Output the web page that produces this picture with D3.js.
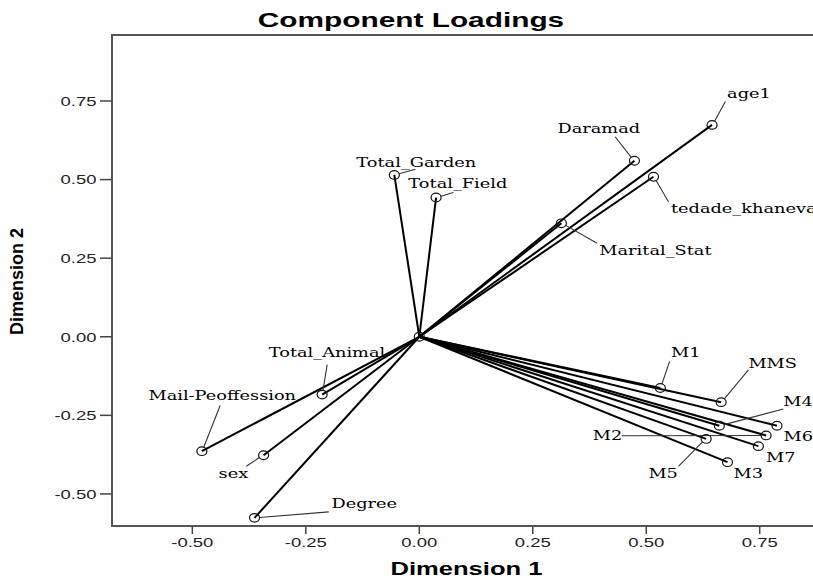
<!DOCTYPE html>
<html>
<head>
<meta charset="utf-8">
<script src="https://cdn.jsdelivr.net/npm/d3@7"></script>
<style>
  body { margin: 0; background: #fff; }
  svg { display: block; }
</style>
</head>
<body>
<script>
// loadings
const names = ["age1", "Daramad", "tedade_khanevar", "Marital_Stat", "Total_Garden", "Total_Field",
               "Total_Animal", "Mail-Peoffession", "sex", "Degree",
               "M1", "MMS", "M4", "M6", "M2", "M5", "M7", "M3"];
const dim1 = [0.645, 0.474, 0.516, 0.313, -0.055, 0.037,
              -0.214, -0.479, -0.343, -0.363,
              0.531, 0.665, 0.661, 0.788, 0.764, 0.632, 0.747, 0.679];
const dim2 = [0.674, 0.560, 0.509, 0.361, 0.515, 0.443,
              -0.184, -0.364, -0.377, -0.576,
              -0.163, -0.208, -0.283, -0.283, -0.314, -0.325, -0.348, -0.399];
const xTicks = [-0.50, -0.25, 0.00, 0.25, 0.50, 0.75];
const yTicks = [-0.50, -0.25, 0.00, 0.25, 0.50, 0.75];

// label placement (pixel offsets from the point: text start, leader start)
const labelPos = {
  "age1":            {t: [15, -26.7],   l: [13.3, -23.3]},
  "Daramad":         {t: [-77, -27.4],  l: [-19.3, -24]},
  "tedade_khanevar": {t: [17.4, 36.6],  l: [15, 25]},
  "Marital_Stat":    {t: [38, 31.7],    l: [35.7, 20]},
  "Total_Garden":    {t: [-38, -8.3],   l: [21, -5.7]},
  "Total_Field":     {t: [-27.7, -10],  l: [17.3, -5]},
  "Total_Animal":    {t: [-53.4, -37.7], l: [5, -30]},
  "Mail-Peoffession":{t: [-53.4, -51],  l: [18.3, -45.7]},
  "sex":             {t: [-45, 22.6],   l: [-17.3, 11]},
  "Degree":          {t: [77, -10],     l: [74.3, -6]},
  "M1":              {t: [10.7, -31],   l: [9.3, -26.6]},
  "MMS":             {t: [27.3, -34.6], l: [27.3, -32.3]},
  "M4":              {t: [64, -20],     l: [64, -16.7]},
  "M6":              {t: [6.6, 15.7],   l: null},
  "M2":              {t: [-173.3, 4.3], l: [-144.3, 0.3]},
  "M5":              {t: [-57.7, 39],   l: [-27.7, 27.4]},
  "M7":              {t: [7.7, 16],     l: null},
  "M3":              {t: [6, 15.6],     l: null}
};

const width = 813, height = 583;
const stretchK = 1.42; // the picture is wider than tall in its glyphs
const sans = "'Liberation Sans', Arial, sans-serif";
const serif = "'DejaVu Serif', serif";
const fmt = d3.formatLocale({decimal: ".", thousands: ",", grouping: [3], currency: ["", ""], minus: "-"}).format(".2f");

const x = d3.scaleLinear().domain([-0.677, 0.885]).range([112, 821]);
const y = d3.scaleLinear().domain([-0.602, 0.96]).range([526, 35]);

const svg = d3.select("body").append("svg")
  .attr("width", width).attr("height", height);

// stretch text horizontally, anchor: 0 start, 0.5 middle, 1 end
function stretch(sel, anchor) {
  sel.each(function() {
    const w = this.getComputedTextLength();
    const x0 = +this.getAttribute("x");
    this.setAttribute("textLength", w * stretchK);
    this.setAttribute("lengthAdjust", "spacingAndGlyphs");
    this.setAttribute("x", x0 - anchor * w * stretchK);
  });
}

// frame
svg.append("path")
  .attr("d", `M${x.range()[1]},${y.range()[1]}H${x.range()[0]}V${y.range()[0]}H${x.range()[1]}`)
  .attr("fill", "none").attr("stroke", "#555").attr("stroke-width", 2);

// y ticks
const yg = svg.append("g");
yg.selectAll("line").data(yTicks).join("line")
  .attr("x1", 100).attr("x2", 112)
  .attr("y1", d => y(d)).attr("y2", d => y(d))
  .attr("stroke", "#444").attr("stroke-width", 1.5);
yg.selectAll("text").data(yTicks).join("text")
  .attr("x", 96.5).attr("y", d => y(d) + 4.8)
  .style("font", `13px ${sans}`).attr("fill", "#222")
  .text(d => fmt(d))
  .call(stretch, 1);

// x ticks
const xg = svg.append("g");
xg.selectAll("line").data(xTicks).join("line")
  .attr("x1", d => x(d)).attr("x2", d => x(d))
  .attr("y1", 526).attr("y2", 534)
  .attr("stroke", "#444").attr("stroke-width", 1.5);
xg.selectAll("text").data(xTicks).join("text")
  .attr("x", d => x(d)).attr("y", 547)
  .style("font", `13px ${sans}`).attr("fill", "#222")
  .text(d => fmt(d))
  .call(stretch, 0.5);

// titles
svg.append("text").attr("x", 411).attr("y", 26.5)
  .style("font", `bold 21px ${sans}`).text("Component Loadings")
  .call(stretch, 0.5);
svg.append("text").attr("x", 466.5).attr("y", 575)
  .style("font", `bold 18px ${sans}`).text("Dimension 1")
  .call(stretch, 0.5);
svg.append("text")
  .attr("transform", "translate(23,281.5) rotate(-90)")
  .attr("text-anchor", "middle")
  .style("font", `bold 18px ${sans}`).text("Dimension 2");

const pts = names.map((n, i) => ({name: n, v1: dim1[i], v2: dim2[i]}));

// vectors from origin
svg.append("g").selectAll("line").data(pts).join("line")
  .attr("x1", x(0)).attr("y1", y(0))
  .attr("x2", d => x(d.v1)).attr("y2", d => y(d.v2))
  .attr("stroke", "#000").attr("stroke-width", 2);

// leader lines
const rx = 5, ry = 4.3;
svg.append("g").selectAll("line").data(pts.filter(d => labelPos[d.name].l)).join("line")
  .each(function(d) {
    const px = x(d.v1), py = y(d.v2);
    const [lx, ly] = labelPos[d.name].l;
    const a = Math.atan2(ly, lx);
    d3.select(this)
      .attr("x1", px + lx).attr("y1", py + ly)
      .attr("x2", px + rx * Math.cos(a)).attr("y2", py + ry * Math.sin(a));
  })
  .attr("stroke", "#333").attr("stroke-width", 1.1);

// markers
svg.append("g").selectAll("ellipse").data([{v1: 0, v2: 0}].concat(pts)).join("ellipse")
  .attr("cx", d => x(d.v1)).attr("cy", d => y(d.v2))
  .attr("rx", rx).attr("ry", ry)
  .attr("fill", "none").attr("stroke", "#111").attr("stroke-width", 1.2);

// labels
svg.append("g").selectAll("text").data(pts).join("text")
  .attr("x", d => x(d.v1) + labelPos[d.name].t[0])
  .attr("y", d => y(d.v2) + labelPos[d.name].t[1])
  .style("font", `12.5px ${serif}`).attr("fill", "#000")
  .text(d => d.name)
  .call(stretch, 0);
</script>
</body>
</html>
